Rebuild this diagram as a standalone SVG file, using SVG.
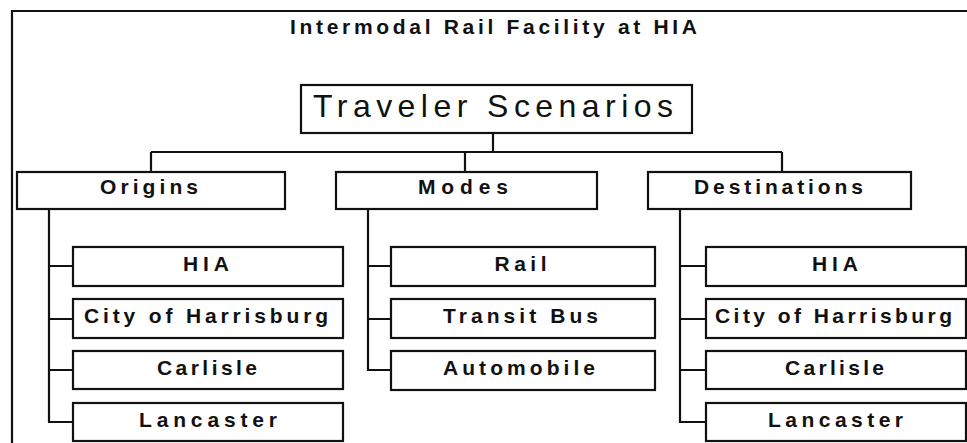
<svg xmlns="http://www.w3.org/2000/svg" width="967" height="443" viewBox="0 0 967 443">
<style>
.box{fill:#fff;stroke:#111;stroke-width:2.2}
.ln{fill:none;stroke:#111;stroke-width:2.2}
text{font-family:"Liberation Sans",Arial,sans-serif;fill:#111;text-anchor:middle}
.lbl{font-size:21px;font-weight:bold}
.title{font-size:21px;font-weight:bold}
.root{font-size:32px}
</style>
<rect width="967" height="443" fill="#fff"/>
<path class="ln" d="M12,443 V11 H967"/>
<text class="title" x="493.5" y="34" textLength="407" lengthAdjust="spacing">Intermodal Rail Facility at HIA</text>
<g id="connectors">
<path class="ln" d="M493,133 V152 M151,152 H782 M151,152 V172 M465,152 V172 M782,152 V172"/>
<path class="ln" d="M49,209 V422 H73 M49,266 H73 M49,319 H73 M49,370 H73"/>
<path class="ln" d="M368,209 V370 H391 M368,266 H391 M368,319 H391"/>
<path class="ln" d="M680,209 V422 H706 M680,266 H706 M680,319 H706 M680,370 H706"/>
</g>
<g id="traveler"><rect class="box" x="301" y="85" width="391" height="48"/><text class="root" x="493" y="117" textLength="360" lengthAdjust="spacing">Traveler Scenarios</text></g>
<g id="origins"><rect class="box" x="17" y="172" width="268" height="37"/><text class="lbl" x="149" y="194" textLength="98" lengthAdjust="spacing">Origins</text></g>
<g id="modes"><rect class="box" x="336" y="172" width="261" height="37"/><text class="lbl" x="463" y="194" textLength="90" lengthAdjust="spacing">Modes</text></g>
<g id="destinations"><rect class="box" x="648" y="172" width="263" height="37"/><text class="lbl" x="778.5" y="194" textLength="169" lengthAdjust="spacing">Destinations</text></g>
<g id="o-hia"><rect class="box" x="73" y="247" width="270" height="39"/><text class="lbl" x="206" y="271" textLength="46" lengthAdjust="spacing">HIA</text></g>
<g id="o-harrisburg"><rect class="box" x="73" y="299" width="270" height="39"/><text class="lbl" x="206" y="323" textLength="244" lengthAdjust="spacing">City of Harrisburg</text></g>
<g id="o-carlisle"><rect class="box" x="73" y="351" width="270" height="38"/><text class="lbl" x="207" y="375" textLength="100" lengthAdjust="spacing">Carlisle</text></g>
<g id="o-lancaster"><rect class="box" x="73" y="403" width="270" height="38"/><text class="lbl" x="208" y="427" textLength="138" lengthAdjust="spacing">Lancaster</text></g>
<g id="m-rail"><rect class="box" x="391" y="247" width="264" height="39"/><text class="lbl" x="520.5" y="271" textLength="52" lengthAdjust="spacing">Rail</text></g>
<g id="m-bus"><rect class="box" x="391" y="299" width="264" height="39"/><text class="lbl" x="520.5" y="323" textLength="155" lengthAdjust="spacing">Transit Bus</text></g>
<g id="m-auto"><rect class="box" x="391" y="351" width="264" height="39"/><text class="lbl" x="519" y="375" textLength="152" lengthAdjust="spacing">Automobile</text></g>
<g id="d-hia"><rect class="box" x="706" y="247" width="260" height="39"/><text class="lbl" x="835" y="271" textLength="46" lengthAdjust="spacing">HIA</text></g>
<g id="d-harrisburg"><rect class="box" x="706" y="299" width="260" height="39"/><text class="lbl" x="833.5" y="323" textLength="237" lengthAdjust="spacing">City of Harrisburg</text></g>
<g id="d-carlisle"><rect class="box" x="706" y="351" width="260" height="38"/><text class="lbl" x="834.5" y="375" textLength="99" lengthAdjust="spacing">Carlisle</text></g>
<g id="d-lancaster"><rect class="box" x="706" y="403" width="260" height="38"/><text class="lbl" x="835.5" y="427" textLength="135" lengthAdjust="spacing">Lancaster</text></g>
</svg>
